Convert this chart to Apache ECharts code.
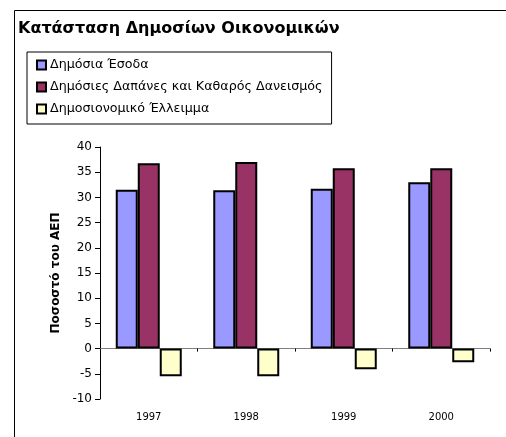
<!DOCTYPE html>
<html>
<head>
<meta charset="utf-8">
<script src="https://cdn.jsdelivr.net/npm/echarts@6/dist/echarts.min.js"></script>
<style>
  html, body { margin: 0; padding: 0; background: #fff; }
  #chart { width: 506px; height: 437px; }
</style>
</head>
<body>
<div id="chart"></div>
<script>
  // years and values (% of GDP)
  var years = ['1997', '1998', '1999', '2000'];
  var revenue = [31.5, 31.4, 31.7, 33.0];
  var spending = [36.8, 37.0, 35.8, 35.8];
  var deficit = [-5.5, -5.5, -4.1, -2.7];
  var seriesNames = ['Δημόσια Έσοδα', 'Δημόσιες Δαπάνες και Καθαρός Δανεισμός', 'Δημοσιονομικό Έλλειμμα'];

  var font = 'DejaVu Sans, sans-serif';
  var myChart = echarts.init(document.getElementById('chart'));

  function barSeries(name, data, color) {
    return {
      type: 'bar',
      name: name,
      data: data,
      xAxisIndex: 0,
      barWidth: 22,
      barGap: '0%',
      itemStyle: {
        color: color,
        borderColor: '#000',
        borderWidth: 2
      }
    };
  }

  var option = {
    animation: false,
    backgroundColor: '#fff',
    textStyle: { fontFamily: font },
    title: {
      text: 'Κατάσταση Δημοσίων Οικονομικών',
      left: 13,
      top: 16,
      textStyle: { fontFamily: font, fontSize: 16, fontWeight: 'bold', color: '#000' }
    },
    legend: {
      orient: 'vertical',
      left: 27,
      top: 52,
      padding: [6, 9, 8, 9],
      borderColor: '#000',
      borderWidth: 1,
      itemGap: 8,
      itemWidth: 9,
      itemHeight: 9,
      icon: 'rect',
      textStyle: { fontFamily: font, fontSize: 12.7, lineHeight: 14, color: '#000', padding: [0, 0, 0, -1] },
      data: seriesNames
    },
    graphic: [{
      type: 'rect',
      shape: { x: 14.5, y: 10.5, width: 600, height: 600 },
      style: { fill: 'none', stroke: '#000', lineWidth: 1 },
      silent: true
    }],
    grid: { left: 100, right: 16, top: 147, bottom: 38 },
    xAxis: [{
      type: 'category',
      data: years,
      position: 'bottom',
      axisLine: { show: false, onZero: false },
      axisTick: { show: false },
      axisLabel: { fontFamily: font, fontSize: 10, color: '#000', margin: 13 }
    }, {
      type: 'category',
      data: years,
      position: 'bottom',
      axisLine: { show: true, onZero: true, lineStyle: { color: '#808080', width: 1 } },
      axisTick: { show: true, length: 3, lineStyle: { color: '#000' } },
      axisLabel: { show: false }
    }],
    yAxis: {
      type: 'value',
      min: -10,
      max: 40,
      interval: 5,
      name: 'Ποσοστό του ΑΕΠ',
      nameLocation: 'middle',
      nameGap: 34,
      nameTextStyle: { fontFamily: font, fontSize: 12, fontWeight: 'bold', color: '#000' },
      axisLine: { show: true, lineStyle: { color: '#000', width: 1 } },
      axisTick: { show: true, length: 5, lineStyle: { color: '#000' } },
      axisLabel: { fontFamily: font, fontSize: 12, color: '#000', margin: 8 },
      splitLine: { show: false }
    },
    series: [
      barSeries(seriesNames[0], revenue, '#9999FF'),
      barSeries(seriesNames[1], spending, '#993366'),
      barSeries(seriesNames[2], deficit, '#FFFFCC')
    ]
  };

  myChart.setOption(option);
</script>
</body>
</html>
